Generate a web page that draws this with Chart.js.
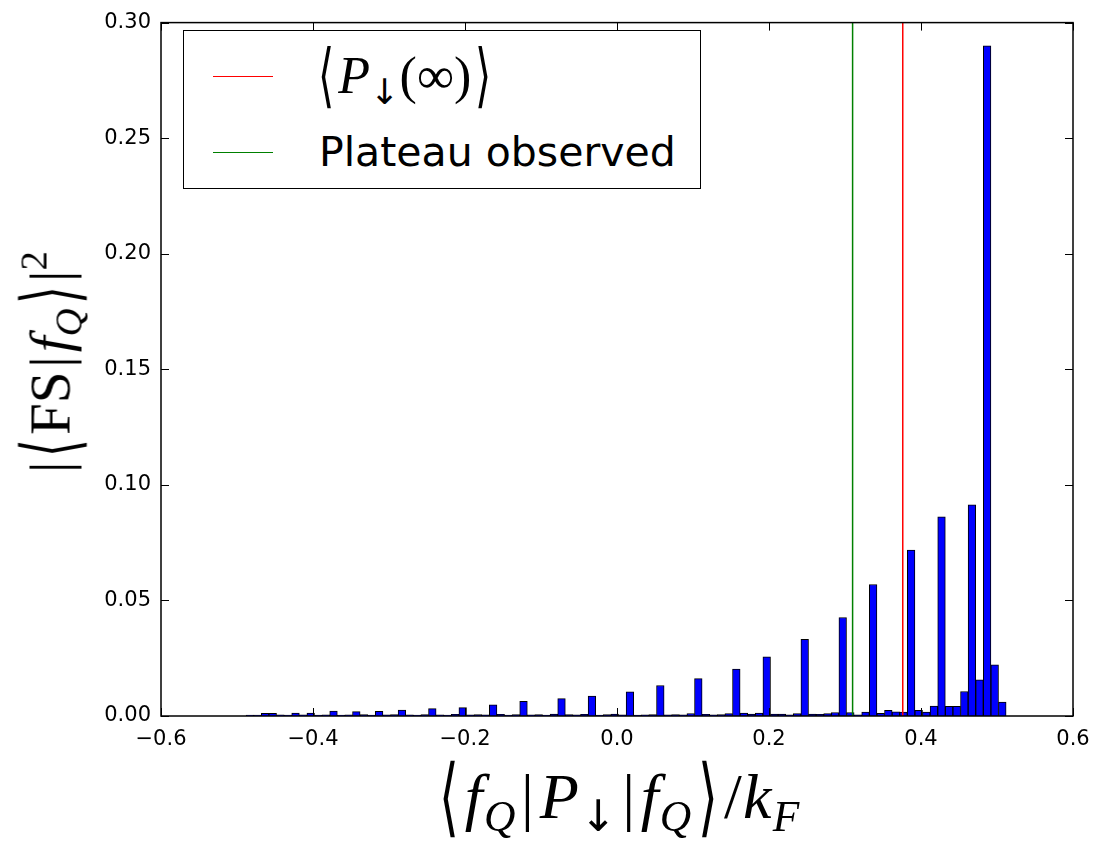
<!DOCTYPE html>
<html>
<head>
<meta charset="utf-8">
<script src="https://cdn.jsdelivr.net/npm/chart.js@4.4.1/dist/chart.umd.min.js"></script>
<style>
  html, body { margin: 0; padding: 0; background: #fff; }
  #wrap { position: relative; width: 1105px; height: 845px; }
  #chart { position: absolute; left: 0; top: 0; }
  .math { position: absolute; font-family: "Liberation Serif", "DejaVu Serif", serif; color: #000; white-space: nowrap; line-height: 1; }
  .math i { font-style: italic; }
  .math sub { font-size: 68%; vertical-align: -0.3em; line-height: 0; }
  .math sup { font-size: 68%; vertical-align: 0.6em; line-height: 0; }
  .arr { font-family: "DejaVu Sans", sans-serif; color: #000; }
  .br { font-family: "DejaVu Sans", sans-serif; font-weight: 200; display: inline-block; transform: scale(0.8, 1.35); margin: 0 0.04em; }
  .bar { margin: 0 0.07em; }
  #xtitle { left: 617px; top: 764px; font-size: 64px; letter-spacing: 0.02em; transform: translateX(-50%); }
  #ytitle { left: 50px; top: 362px; font-size: 57px; transform: translate(-50%, -50%) rotate(-90deg); }
  #legend { position: absolute; left: 183px; top: 30px; width: 518px; height: 159px; border: 1.5px solid #000; box-sizing: border-box; background: #fff; }
  .sample { position: absolute; left: 29px; width: 60px; height: 0; border-top: 1.5px solid; }
  .ltext { position: absolute; left: 135px; font-size: 41px; line-height: 1; white-space: nowrap; }
</style>
</head>
<body>
<div id="wrap">
  <canvas id="chart" width="1105" height="845"></canvas>
  <div id="legend">
    <div class="sample" id="s1" style="top:45px"></div>
    <div class="ltext math" style="left:130px; top:18px; font-size:52px"><span class="br">⟨</span><i>P</i><sub class="arr">↓&#xFE0E;</sub>(∞)<span class="br">⟩</span></div>
    <div class="sample" id="s2" style="top:121px"></div>
    <div class="ltext" style="top:101px; font-family:'DejaVu Sans', sans-serif">Plateau observed</div>
  </div>
  <div id="xtitle" class="math"><span class="br">⟨</span><i>f</i><sub><i>Q</i></sub><span class="bar">|</span><i>P</i><sub class="arr">↓&#xFE0E;</sub><span class="bar">|</span><i>f</i><sub><i>Q</i></sub><span class="br">⟩</span>/<i>k</i><sub><i>F</i></sub></div>
  <div id="ytitle" class="math">|<span class="br">⟨</span>FS<span class="bar">|</span><i>f</i><sub><i>Q</i></sub><span class="br">⟩</span>|<sup>2</sup></div>
</div>
<script>
// histogram bins (centers, width 0.01) and heights
const binCenters = [
  -0.483, -0.473, -0.463, -0.453, -0.443, -0.433, -0.423, -0.413, -0.403, -0.393,
  -0.383, -0.373, -0.363, -0.353, -0.343, -0.333, -0.323, -0.313, -0.303, -0.293,
  -0.283, -0.273, -0.263, -0.253, -0.243, -0.233, -0.223, -0.213, -0.203, -0.193,
  -0.183, -0.173, -0.163, -0.153, -0.143, -0.133, -0.123, -0.113, -0.103, -0.093,
  -0.083, -0.073, -0.063, -0.053, -0.043, -0.033, -0.023, -0.013, -0.003, 0.007,
  0.017, 0.027, 0.037, 0.047, 0.057, 0.067, 0.077, 0.087, 0.097, 0.107,
  0.117, 0.127, 0.137, 0.147, 0.157, 0.167, 0.177, 0.187, 0.197, 0.207,
  0.217, 0.227, 0.237, 0.247, 0.257, 0.267, 0.277, 0.287, 0.297, 0.307,
  0.317, 0.327, 0.337, 0.347, 0.357, 0.367, 0.377, 0.387, 0.397, 0.407,
  0.417, 0.427, 0.437, 0.447, 0.457, 0.467, 0.477, 0.487, 0.497, 0.507
];
const binValues = [
  0.0004, 0.0004, 0.0012, 0.0012, 0.0005, 0.0004, 0.0013, 0.0005, 0.0013, 0.0004,
  0.0005, 0.0021, 0.0004, 0.0005, 0.0019, 0.0006, 0.0004, 0.0020, 0.0005, 0.0006,
  0.0026, 0.0005, 0.0004, 0.0006, 0.0032, 0.0005, 0.0004, 0.0007, 0.0036, 0.0005,
  0.0006, 0.0005, 0.0048, 0.0007, 0.0004, 0.0006, 0.0064, 0.0005, 0.0006, 0.0004,
  0.0008, 0.0075, 0.0006, 0.0005, 0.0007, 0.0086, 0.0004, 0.0006, 0.0008, 0.0005,
  0.0105, 0.0004, 0.0005, 0.0006, 0.0132, 0.0005, 0.0006, 0.0005, 0.0011, 0.0162,
  0.0007, 0.0005, 0.0006, 0.0010, 0.0203, 0.0013, 0.0008, 0.0013, 0.0256, 0.0008,
  0.0008, 0.0005, 0.0010, 0.0332, 0.0008, 0.0007, 0.0010, 0.0015, 0.0426, 0.0015,
  0.0005, 0.0017, 0.0569, 0.0012, 0.0025, 0.0018, 0.0017, 0.0718, 0.0025, 0.0017,
  0.0043, 0.0862, 0.0042, 0.0042, 0.0106, 0.0914, 0.0157, 0.2900, 0.0221, 0.0060
];
const pInfX = 0.376;     // <P_down(inf)>
const plateauX = 0.310;  // plateau observed
const lineSpan = [0, 0.3];

const xTicks = [-0.6, -0.4, -0.2, 0.0, 0.2, 0.4, 0.6];
const yTicks = [0.00, 0.05, 0.10, 0.15, 0.20, 0.25, 0.30];

const RED = '#ff0000', GREEN = '#008000', BLUE = '#0000ff';
document.getElementById('s1').style.borderColor = RED;
document.getElementById('s2').style.borderColor = GREEN;

// matplotlib-like frame with inward ticks on all four sides
const framePlugin = {
  id: 'frame',
  afterDraw(chart) {
    const { ctx, chartArea: a, scales } = chart;
    ctx.save();
    ctx.strokeStyle = '#000';
    ctx.lineWidth = 1;
    ctx.beginPath();
    xTicks.forEach(v => {
      const px = Math.round(scales.x.getPixelForValue(v)) + 0.5;
      ctx.moveTo(px, a.bottom); ctx.lineTo(px, a.bottom - 8);
      ctx.moveTo(px, a.top); ctx.lineTo(px, a.top + 8);
    });
    yTicks.forEach(v => {
      const py = Math.round(scales.y.getPixelForValue(v)) + 0.5;
      ctx.moveTo(a.left, py); ctx.lineTo(a.left + 8, py);
      ctx.moveTo(a.right, py); ctx.lineTo(a.right - 8, py);
    });
    ctx.stroke();
    ctx.lineWidth = 1.5;
    ctx.strokeRect(a.left, a.top, a.right - a.left, a.bottom - a.top);
    ctx.restore();
  }
};

const fmt = (v, d) => (Math.abs(v) < 1e-9 ? 0 : v).toFixed(d).replace('-', '\u2212');

new Chart(document.getElementById('chart'), {
  data: {
    datasets: [
      {
        type: 'line', order: 1,
        data: lineSpan.map(y => ({ x: pInfX, y })),
        borderColor: RED, borderWidth: 1.5, pointRadius: 0
      },
      {
        type: 'line', order: 1,
        data: lineSpan.map(y => ({ x: plateauX, y })),
        borderColor: GREEN, borderWidth: 1.5, pointRadius: 0
      },
      {
        type: 'bar', order: 2,
        data: binCenters.map((x, i) => ({ x, y: binValues[i] })),
        backgroundColor: BLUE, borderColor: '#000', borderWidth: 1,
        barPercentage: 1, categoryPercentage: 1
      }
    ]
  },
  options: {
    responsive: false,
    animation: false,
    layout: { padding: { left: 0, right: 32, top: 10, bottom: 0 } },
    plugins: { legend: { display: false }, tooltip: { enabled: false } },
    scales: {
      x: {
        type: 'linear', min: -0.6, max: 0.6, offset: false,
        grid: { display: false, drawTicks: false, offset: false },
        border: { display: false },
        afterBuildTicks: s => { s.ticks = xTicks.map(value => ({ value })); },
        afterFit: s => { s.height = 129; },
        ticks: { padding: 11, color: '#000', font: { family: 'DejaVu Sans', size: 21 }, maxRotation: 0, callback: v => fmt(v, 1) }
      },
      y: {
        type: 'linear', min: 0, max: 0.3,
        grid: { display: false, drawTicks: false },
        border: { display: false },
        afterBuildTicks: s => { s.ticks = yTicks.map(value => ({ value })); },
        afterFit: s => { s.width = 161; },
        ticks: { padding: 10, color: '#000', font: { family: 'DejaVu Sans', size: 21 }, callback: v => fmt(v, 2) }
      }
    }
  },
  plugins: [framePlugin]
});
</script>
</body>
</html>
